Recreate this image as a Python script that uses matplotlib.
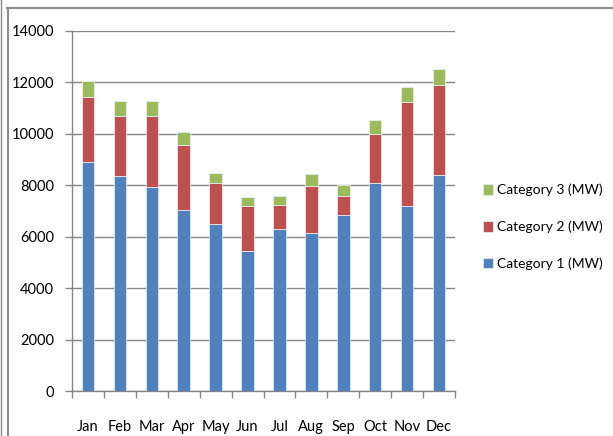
import numpy as np
import matplotlib
matplotlib.use('Agg')
import matplotlib.pyplot as plt
from matplotlib.lines import Line2D
from matplotlib import font_manager

months = ['Jan', 'Feb', 'Mar', 'Apr', 'May', 'Jun', 'Jul', 'Aug', 'Sep', 'Oct', 'Nov', 'Dec']
cat1 = [8920, 8350, 7930, 7040, 6480, 5430, 6290, 6140, 6850, 8080, 7200, 8390]
cat2 = [2530, 2360, 2775, 2540, 1610, 1765, 945, 1830, 750, 1920, 4030, 3510]
cat3 = [610, 560, 560, 495, 400, 360, 365, 455, 400, 520, 595, 635]
labels = ['Category 1 (MW)', 'Category 2 (MW)', 'Category 3 (MW)']
yticks = [0, 2000, 4000, 6000, 8000, 10000, 12000, 14000]

plt.rcParams['font.family'] = ['Lato', 'DejaVu Sans']

# narrow face for the legend if there is one
try:
    font_manager.findfont('Liberation Sans Narrow', fallback_to_default=False)
    leg_font = {'family': 'Liberation Sans Narrow', 'size': 12}
except Exception:
    leg_font = {'family': 'Lato', 'size': 10}

fig = plt.figure(figsize=(6.13, 4.36), dpi=100)
ax = fig.add_axes([72 / 613, 45 / 436, 383 / 613, 360 / 436])

x = np.arange(len(months))
w = 0.39
b1 = np.array(cat1)
b2 = b1 + np.array(cat2)
edge = '#e4ebf3'
h1 = ax.bar(x, cat1, w, color='#4F81BD', edgecolor=edge, linewidth=0.6, zorder=3)
h2 = ax.bar(x, cat2, w, bottom=b1, color='#C0504D', edgecolor=edge, linewidth=0.6, zorder=3)
h3 = ax.bar(x, cat3, w, bottom=b2, color='#9BBB59', edgecolor=edge, linewidth=0.6, zorder=3)

ax.set_xlim(-0.5, 11.5)
ax.set_ylim(0, 14000)
ax.set_yticks(yticks)
ax.set_yticklabels([str(t) for t in yticks])
ax.yaxis.grid(True, color='#868686', linewidth=1.0, zorder=0)
ax.set_axisbelow(True)

ax.set_xticks(x)
ax.set_xticklabels(months)
ax.set_xticks(np.arange(-0.5, 12, 1), minor=True)
ax.tick_params(axis='x', which='major', length=0, pad=21, labelsize=10.5)
ax.tick_params(axis='x', which='minor', length=5, color='#868686', width=1)
ax.tick_params(axis='y', length=5, color='#868686', width=1, pad=8, labelsize=10.5)

for s in ['top', 'right']:
    ax.spines[s].set_visible(False)
for s in ['left', 'bottom']:
    ax.spines[s].set_color('#868686')
    ax.spines[s].set_linewidth(1)

leg = fig.legend([h3, h2, h1], labels[::-1], loc='center left',
                 bbox_to_anchor=(470 / 613, 1 - 227 / 436), frameon=False,
                 prop=leg_font, handlelength=0.75, handleheight=0.75,
                 handletextpad=0.3, labelspacing=1.75)

# chart frame like the spreadsheet border
fig.add_artist(Line2D([0.5 / 613, 0.5 / 613], [0, 1], color='#8c8c8c', lw=1, transform=fig.transFigure))
fig.add_artist(Line2D([7.5 / 613, 7.5 / 613], [0, 1 - 8 / 436], color='#8c8c8c', lw=1.5, transform=fig.transFigure))
fig.add_artist(Line2D([7 / 613, 1], [1 - 8.5 / 436, 1 - 8.5 / 436], color='#8c8c8c', lw=1.5, transform=fig.transFigure))

fig.savefig('out.png', dpi=100)
